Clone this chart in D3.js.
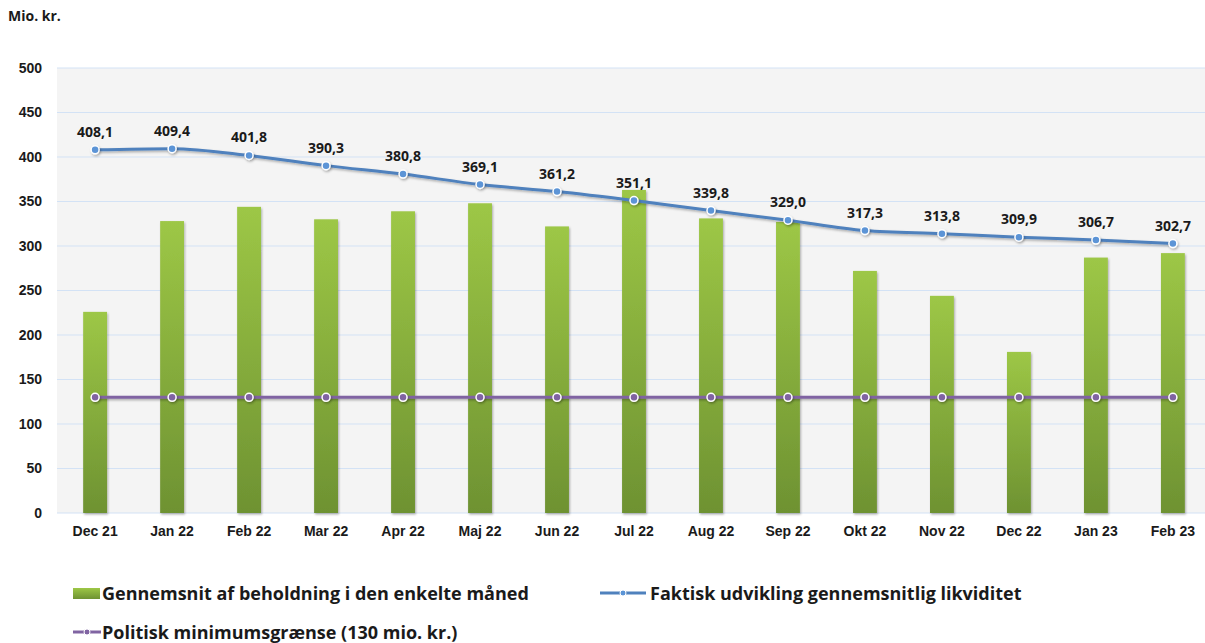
<!DOCTYPE html>
<html lang="da">
<head>
<meta charset="UTF-8">
<title>Likviditet</title>
<script src="https://d3js.org/d3.v7.min.js"></script>
<style>
  * { margin: 0; padding: 0; box-sizing: border-box; }
  body { background: #ffffff; font-family: 'Open Sans', sans-serif; overflow: hidden; }
  .axis text { font-size: 14px; font-weight: 700; fill: #1a1a1a; }
  .axis path, .axis line { display: none; }
  .label { font-size: 14px; font-weight: 700; fill: #1a1a1a; text-anchor: middle; }
  .legend text { font-size: 18px; font-weight: 700; fill: #1a1a1a; }
</style>
</head>
<body>
<div id="chart"></div>
<script>
const months = ["Dec 21", "Jan 22", "Feb 22", "Mar 22", "Apr 22", "Maj 22", "Jun 22", "Jul 22",
                "Aug 22", "Sep 22", "Okt 22", "Nov 22", "Dec 22", "Jan 23", "Feb 23"];
const beholdning = [226, 328, 344, 330, 339, 348, 322, 363, 331, 327, 272, 244, 181, 287, 292];
const likviditet = [408.1, 409.4, 401.8, 390.3, 380.8, 369.1, 361.2, 351.1, 339.8, 329.0, 317.3, 313.8, 309.9, 306.7, 302.7];
const minimum = months.map(() => 130);
const yTicks = [0, 50, 100, 150, 200, 250, 300, 350, 400, 450, 500];

const W = 1205, H = 643;
const plot = { left: 57, right: 1211, top: 68, bottom: 513 };

const svg = d3.select("#chart").append("svg")
    .attr("width", W).attr("height", H);

const defs = svg.append("defs");
const grad = defs.append("linearGradient")
    .attr("id", "barGrad").attr("x1", 0).attr("y1", 0).attr("x2", 0).attr("y2", 1);
grad.append("stop").attr("offset", "0%").attr("stop-color", "#9dc746");
grad.append("stop").attr("offset", "100%").attr("stop-color", "#6e9232");

// userSpaceOnUse so flat horizontal lines keep their shadow
const shadow = defs.append("filter").attr("id", "shadow")
    .attr("filterUnits", "userSpaceOnUse")
    .attr("x", 0).attr("y", 0).attr("width", W).attr("height", H);
shadow.append("feDropShadow").attr("dx", 1).attr("dy", 1.5).attr("stdDeviation", 1.2)
    .attr("flood-color", "#000").attr("flood-opacity", 0.3);

const x = d3.scaleBand().domain(months).range([plot.left, plot.right])
    .paddingInner(0.69).paddingOuter(0.34);
const xc = d => x(d) + x.bandwidth() / 2;
const y = d3.scaleLinear().domain([0, 500]).range([plot.bottom, plot.top]);

// plot background
svg.append("rect")
    .attr("x", plot.left).attr("y", plot.top)
    .attr("width", plot.right - plot.left).attr("height", plot.bottom - plot.top)
    .attr("fill", "#f4f4f4");

// grid
svg.append("g").selectAll("line").data(yTicks).join("line")
    .attr("x1", plot.left).attr("x2", plot.right)
    .attr("y1", d => y(d)).attr("y2", d => y(d))
    .attr("stroke", "#d3e2f5").attr("stroke-width", 1);

// y axis
svg.append("g").attr("class", "axis")
    .attr("transform", `translate(${plot.left - 15},0)`)
    .call(d3.axisLeft(y).tickValues(yTicks).tickSize(0).tickPadding(0));

// x axis
svg.append("g").attr("class", "axis")
    .attr("transform", `translate(0,${plot.bottom + 13})`)
    .call(d3.axisBottom(x).tickSize(0).tickPadding(0));

svg.append("text").attr("x", 8).attr("y", 21)
    .style("font-size", "14px").style("font-weight", 700).attr("fill", "#1a1a1a")
    .text("Mio. kr.");

// bars
svg.append("g").selectAll("rect").data(months).join("rect")
    .attr("x", d => x(d))
    .attr("y", (d, i) => y(beholdning[i]))
    .attr("width", x.bandwidth())
    .attr("height", (d, i) => y(0) - y(beholdning[i]))
    .attr("fill", "url(#barGrad)")
    .attr("filter", "url(#shadow)");

// minimum line
const line = d3.line().x(d => xc(d[0])).y(d => y(d[1]));
svg.append("path")
    .datum(months.map((m, i) => [m, minimum[i]]))
    .attr("d", line).attr("fill", "none")
    .attr("stroke", "#8064a2").attr("stroke-width", 3)
    .attr("filter", "url(#shadow)");
svg.append("g").selectAll("circle").data(months).join("circle")
    .attr("cx", d => xc(d)).attr("cy", (d, i) => y(minimum[i])).attr("r", 4)
    .attr("fill", "#8064a2").attr("stroke", "#ffffff").attr("stroke-width", 1.5)
    .attr("filter", "url(#shadow)");

// liquidity line
svg.append("path")
    .datum(months.map((m, i) => [m, likviditet[i]]))
    .attr("d", line.curve(d3.curveMonotoneX)).attr("fill", "none")
    .attr("stroke", "#4f81bd").attr("stroke-width", 3)
    .attr("filter", "url(#shadow)");
svg.append("g").selectAll("circle").data(months).join("circle")
    .attr("cx", d => xc(d)).attr("cy", (d, i) => y(likviditet[i])).attr("r", 4)
    .attr("fill", "#5b94d6").attr("stroke", "#ffffff").attr("stroke-width", 1.5)
    .attr("filter", "url(#shadow)");

svg.append("g").selectAll("text").data(months).join("text")
    .attr("class", "label")
    .attr("x", d => xc(d)).attr("y", (d, i) => y(likviditet[i]) - 13)
    .text((d, i) => likviditet[i].toFixed(1).replace(".", ","));

// legend
const legend = svg.append("g").attr("class", "legend");
legend.append("rect").attr("x", 73).attr("y", 588).attr("width", 27).attr("height", 11)
    .attr("fill", "url(#barGrad)");
legend.append("text").attr("x", 102).attr("y", 600).text("Gennemsnit af beholdning i den enkelte måned");

legend.append("line").attr("x1", 600).attr("x2", 646).attr("y1", 593).attr("y2", 593)
    .attr("stroke", "#4f81bd").attr("stroke-width", 3);
legend.append("circle").attr("cx", 623).attr("cy", 593).attr("r", 3)
    .attr("fill", "#5b94d6").attr("stroke", "#fff").attr("stroke-width", 1);
legend.append("text").attr("x", 650).attr("y", 600).text("Faktisk udvikling gennemsnitlig likviditet");

legend.append("line").attr("x1", 73).attr("x2", 101).attr("y1", 632).attr("y2", 632)
    .attr("stroke", "#8064a2").attr("stroke-width", 3);
legend.append("circle").attr("cx", 87).attr("cy", 632).attr("r", 3)
    .attr("fill", "#8064a2").attr("stroke", "#fff").attr("stroke-width", 1);
legend.append("text").attr("x", 102).attr("y", 639).text("Politisk minimumsgrænse (130 mio. kr.)");
</script>
</body>
</html>
